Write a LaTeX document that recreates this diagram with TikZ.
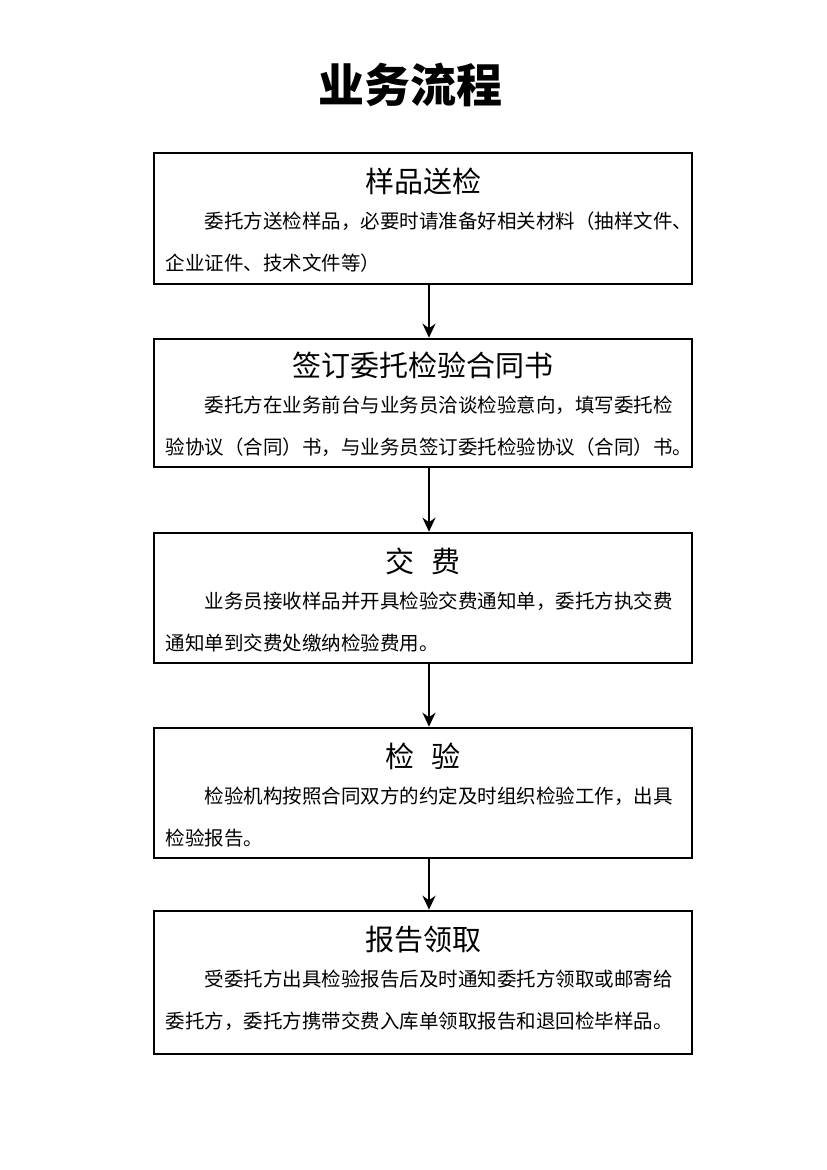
\documentclass[tikz,border=0pt]{standalone}
\usepackage{fontspec}
\setmainfont{Noto Sans CJK SC}
\usetikzlibrary{arrows.meta, positioning}
\tikzstyle{stagebox} = [rectangle, draw=black, line width=2.6pt, minimum width=538pt, inner sep=0pt]
\tikzstyle{stagetitle} = [anchor=center, font=\fontsize{29pt}{30pt}\selectfont]
\tikzstyle{stagetext} = [anchor=north, text width=515pt, align=left, inner sep=0pt,
    font=\fontsize{19.5pt}{42pt}\selectfont]
\tikzstyle{arrow} = [line width=2.8pt, -{Stealth[length=14pt,width=13pt]}]

\begin{document}
\begin{tikzpicture}[x=1pt, y=-1pt]
    \useasboundingbox (0,0) rectangle (827,1170);
    % title
    \node (Title) at (410,85) {\fontsize{46pt}{48pt}\selectfont\bfseries 业务流程};

    % boxes
    \node (Sample) [stagebox, minimum height=131pt] at (423,218.5) {};
    \node (Contract) [stagebox, minimum height=128pt] at (423,403) {};
    \node (Fee) [stagebox, minimum height=130pt] at (423,598) {};
    \node (Test) [stagebox, minimum height=130pt] at (423,793) {};
    \node (Report) [stagebox, minimum height=143pt] at (423,982.5) {};

    % box titles
    \node (SampleTitle) [stagetitle] at ([yshift=-30pt]Sample.north) {样品送检};
    \node (ContractTitle) [stagetitle] at ([yshift=-28pt]Contract.north) {签订委托检验合同书};
    \node (FeeTitle) [stagetitle] at ([yshift=-30pt]Fee.north) {交\hspace{0.6em}费};
    \node (TestTitle) [stagetitle] at ([yshift=-30pt]Test.north) {检\hspace{0.6em}验};
    \node (ReportTitle) [stagetitle] at ([yshift=-30pt]Report.north) {报告领取};

    % box texts
    \node (SampleText) [stagetext] at ([yshift=-60pt]Sample.north)
        {\hspace*{2em}委托方送检样品，必要时请准备好相关材料（抽样文件、\\企业证件、技术文件等）};
    \node (ContractText) [stagetext] at ([yshift=-58pt]Contract.north)
        {\hspace*{2em}委托方在业务前台与业务员洽谈检验意向，填写委托检\\验协议（合同）书，与业务员签订委托检验协议（合同）书。};
    \node (FeeText) [stagetext] at ([yshift=-60pt]Fee.north)
        {\hspace*{2em}业务员接收样品并开具检验交费通知单，委托方执交费\\通知单到交费处缴纳检验费用。};
    \node (TestText) [stagetext] at ([yshift=-60pt]Test.north)
        {\hspace*{2em}检验机构按照合同双方的约定及时组织检验工作，出具\\检验报告。};
    \node (ReportText) [stagetext] at ([yshift=-60pt]Report.north)
        {\hspace*{2em}受委托方出具检验报告后及时通知委托方领取或邮寄给\\委托方，委托方携带交费入库单领取报告和退回检毕样品。};

    % arrows
    \draw [arrow] ([xshift=6pt]Sample.south) -- ([xshift=6pt]Contract.north);
    \draw [arrow] ([xshift=6pt]Contract.south) -- ([xshift=6pt]Fee.north);
    \draw [arrow] ([xshift=6pt]Fee.south) -- ([xshift=6pt]Test.north);
    \draw [arrow] ([xshift=6pt]Test.south) -- ([xshift=6pt]Report.north);
\end{tikzpicture}
\end{document}
